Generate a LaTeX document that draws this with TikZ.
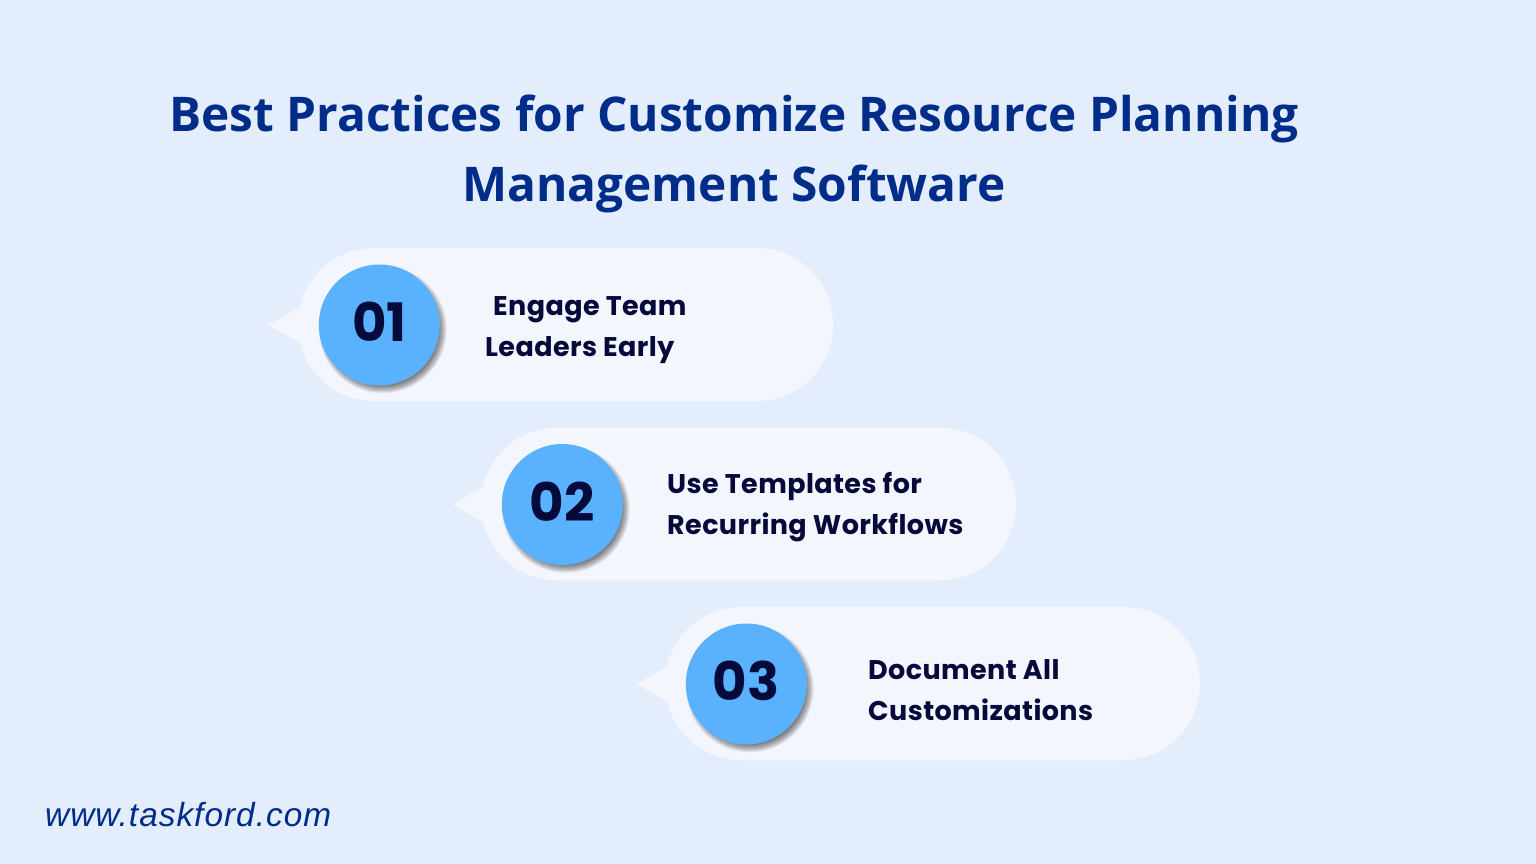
\documentclass[tikz,border=0pt]{standalone}
\usepackage{fontspec}
\setmainfont{Open Sans}
\newfontfamily\popfont{Poppins}
\newfontfamily\itemfont[LetterSpace=1.5]{Poppins}
\newfontfamily\sitefont[LetterSpace=3]{Liberation Sans}
\usetikzlibrary{calc}
\definecolor{pagebg}{HTML}{E3EDFC}
\definecolor{bubblebg}{HTML}{F3F6FC}
\definecolor{titleblue}{HTML}{002C8A}
\definecolor{dotblue}{HTML}{5AB2FF}
\definecolor{darkink}{HTML}{050A3A}
\tikzset{
  bubble/.style={fill=bubblebg,rounded corners=76pt,minimum width=535pt,minimum height=153pt,inner sep=0pt},
  tail/.style={fill=bubblebg},
  dot/.style={circle,fill=dotblue,minimum size=121pt,inner sep=0pt,text=darkink},
  numtext/.style={text=darkink,inner sep=0pt,font=\popfont\bfseries\fontsize{53}{53}\selectfont},
  itemtext/.style={anchor=west,align=left,text=darkink,inner sep=0pt,font=\itemfont\bfseries\fontsize{27}{41}\selectfont},
  titletext/.style={align=center,text=titleblue,inner sep=0pt,font=\bfseries\fontsize{47.8}{70}\selectfont},
}
\begin{document}
\begin{tikzpicture}[x=1pt,y=-1pt]
  \fill[pagebg] (0,0) rectangle (1536,864);
  \useasboundingbox (0,0) rectangle (1536,864);

  \node[titletext] (title) at (734,154) {Best Practices for Customize Resource Planning\\Management Software};

  % bubbles, left to right
  \foreach \name/\bx/\by/\tl/\num/\tx/\ty/\itemlabel in {
    a/565.5/324.5/30/01/485/330/{\hspace*{8pt}Engage Team\\Leaders Early},
    b/748.5/504/28/02/667/507/{Use Templates for\\Recurring Workflows},
    c/932.5/683.5/28/03/868/690/{Document All\\Customizations}}{
    \node[bubble] (bubble\name) at (\bx,\by) {};
    \fill[tail] ($(bubble\name.west)+(-\tl,0.5)$) -- ++(\tl+4,-19) -- ++(0,38) -- cycle;
    % soft shadow under the circle
    \foreach \r in {0,0.5,...,8}{
      \fill[black,opacity=0.035] ($(bubble\name.west)+(85,5)$) circle ({64-\r});
    }
    \node[dot] (dot\name) at ($(bubble\name.west)+(81.5,0.5)$) {};
    \node[numtext] (num\name) at ($(dot\name)+(0,-3)$) {\num};
    \node[itemtext] (text\name) at (\tx,\ty) {\itemlabel};
  }

  \node[anchor=west,inner sep=0pt,text=titleblue,font=\sitefont\itshape\fontsize{33.4}{33.4}\selectfont] (site) at (45,815) {www.taskford.com};
\end{tikzpicture}
\end{document}
